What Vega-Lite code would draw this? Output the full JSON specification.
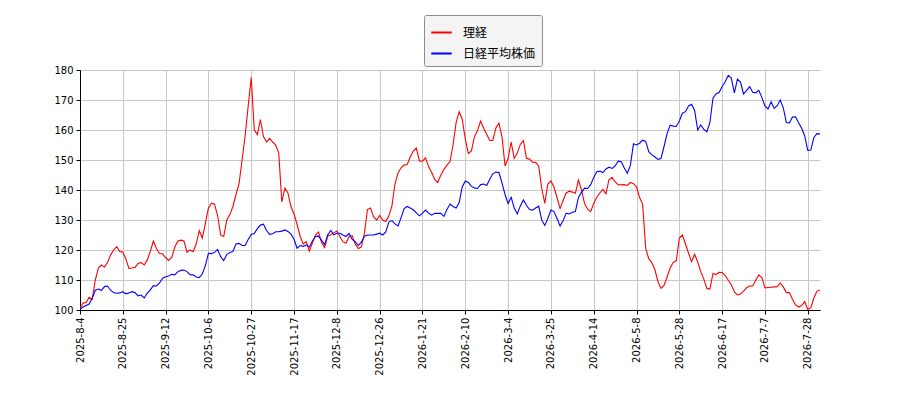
{
  "$schema": "https://vega.github.io/schema/vega-lite/v6.json",
  "width": 740,
  "height": 240,
  "autosize": "none",
  "padding": {"left": 80, "top": 70, "right": 80, "bottom": 90},
  "background": "white",
  "config": {
    "view": {"stroke": null},
    "font": "DejaVu Sans",
    "axis": {
      "labelFont": "DejaVu Sans", "labelFontSize": 10, "labelColor": "black",
      "domainColor": "black", "tickColor": "black", "tickSize": 4,
      "gridColor": "#c8c8c8", "gridWidth": 1, "title": null
    }
  },
  "data": {"values": [
    {"i":0,"理経":100.5,"日経平均株価":100.2},{"i":1,"理経":102.3,"日経平均株価":101},{"i":2,"理経":102.5,"日経平均株価":101.5},{"i":3,"理経":104.2,"日経平均株価":102},{"i":4,"理経":103.5,"日経平均株価":104},
    {"i":5,"理経":110,"日経平均株価":106.6},{"i":6,"理経":114,"日経平均株価":107},{"i":7,"理経":115,"日経平均株価":106.5},{"i":8,"理経":114.3,"日経平均株価":107.8},{"i":9,"理経":115.8,"日経平均株価":108},
    {"i":10,"理経":118.3,"日経平均株価":106.6},{"i":11,"理経":120,"日経平均株価":105.8},{"i":12,"理経":121.1,"日経平均株価":105.6},{"i":13,"理経":119.5,"日経平均株価":105.7},{"i":14,"理経":119.3,"日経平均株価":106.1},
    {"i":15,"理経":117,"日経平均株価":105.4},{"i":16,"理経":113.9,"日経平均株価":105.7},{"i":17,"理経":114,"日経平均株価":106.1},{"i":18,"理経":114.2,"日経平均株価":105.8},{"i":19,"理経":115.5,"日経平均株価":104.7},
    {"i":20,"理経":115.8,"日経平均株価":105},{"i":21,"理経":115,"日経平均株価":104},{"i":22,"理経":116.7,"日経平均株価":105.6},{"i":23,"理経":119.5,"日経平均株価":106.7},{"i":24,"理経":123,"日経平均株価":108.1},
    {"i":25,"理経":120.5,"日経平均株価":108},{"i":26,"理経":118.8,"日経平均株価":109},{"i":27,"理経":118.7,"日経平均株価":110.6},{"i":28,"理経":117.5,"日経平均株価":111.1},{"i":29,"理経":116.5,"日経平均株価":111.3},
    {"i":30,"理経":117.5,"日経平均株価":111.9},{"i":31,"理経":121,"日経平均株価":111.7},{"i":32,"理経":123,"日経平均株価":112.8},{"i":33,"理経":123.3,"日経平均株価":113.2},{"i":34,"理経":123,"日経平均株価":113.3},
    {"i":35,"理経":119.2,"日経平均株価":112.8},{"i":36,"理経":120,"日経平均株価":111.8},{"i":37,"理経":119.4,"日経平均株価":111.7},{"i":38,"理経":122,"日経平均株価":111},{"i":39,"理経":126.5,"日経平均株価":110.8},
    {"i":40,"理経":124,"日経平均株価":112},{"i":41,"理経":128.9,"日経平均株価":114.8},{"i":42,"理経":134,"日経平均株価":118.9},{"i":43,"理経":135.6,"日経平均株価":118.8},{"i":44,"理経":135.3,"日経平均株価":119.2},
    {"i":45,"理経":131.5,"日経平均株価":120.2},{"i":46,"理経":125,"日経平均株価":117.8},{"i":47,"理経":124.5,"日経平均株価":116.5},{"i":48,"理経":130,"日経平均株価":118.5},{"i":49,"理経":131.8,"日経平均株価":119.2},
    {"i":50,"理経":134.5,"日経平均株価":119.5},{"i":51,"理経":138.5,"日経平均株価":122},{"i":52,"理経":142,"日経平均株価":122.2},{"i":53,"理経":150,"日経平均株価":121.5},{"i":54,"理経":158,"日経平均株価":121.5},
    {"i":55,"理経":168,"日経平均株価":123.5},{"i":56,"理経":177.5,"日経平均株価":125.2},{"i":57,"理経":160,"日経平均株価":125.5},{"i":58,"理経":158.5,"日経平均株価":127.1},{"i":59,"理経":163.5,"日経平均株価":128.3},
    {"i":60,"理経":157.8,"日経平均株価":128.6},{"i":61,"理経":156,"日経平均株価":126.5},{"i":62,"理経":157.2,"日経平均株価":125.2},{"i":63,"理経":156,"日経平均株価":125.4},{"i":64,"理経":155,"日経平均株価":126.1},
    {"i":65,"理経":152.3,"日経平均株価":126.1},{"i":66,"理経":136,"日経平均株価":126.3},{"i":67,"理経":140.6,"日経平均株価":126.7},{"i":68,"理経":139,"日経平均株価":126.2},{"i":69,"理経":134.4,"日経平均株価":125.3},
    {"i":70,"理経":132,"日経平均株価":123.6},{"i":71,"理経":128.5,"日経平均株価":120.6},{"i":72,"理経":124.5,"日経平均株価":121.5},{"i":73,"理経":122,"日経平均株価":121.2},{"i":74,"理経":122.8,"日経平均株価":121.7},
    {"i":75,"理経":119.6,"日経平均株価":121},{"i":76,"理経":122.3,"日経平均株価":123},{"i":77,"理経":125,"日経平均株価":124.5},{"i":78,"理経":126,"日経平均株価":124.6},{"i":79,"理経":122.5,"日経平均株価":123.2},
    {"i":80,"理経":120.8,"日経平均株価":121.8},{"i":81,"理経":124.6,"日経平均株価":125},{"i":82,"理経":125.1,"日経平均株価":126.5},{"i":83,"理経":125.7,"日経平均株価":125.1},{"i":84,"理経":126.3,"日経平均株価":125.6},
    {"i":85,"理経":124.5,"日経平均株価":125.6},{"i":86,"理経":122.7,"日経平均株価":125},{"i":87,"理経":122.3,"日経平均株価":124.5},{"i":88,"理経":124.4,"日経平均株価":125.5},{"i":89,"理経":124.8,"日経平均株価":123.5},
    {"i":90,"理経":122,"日経平均株価":122.8},{"i":91,"理経":120.5,"日経平均株価":121.5},{"i":92,"理経":121,"日経平均株価":122.6},{"i":93,"理経":125.5,"日経平均株価":124.6},{"i":94,"理経":133.5,"日経平均株価":125},
    {"i":95,"理経":134,"日経平均株価":125},{"i":96,"理経":131.1,"日経平均株価":125},{"i":97,"理経":130,"日経平均株価":125.3},{"i":98,"理経":131.5,"日経平均株価":125.6},{"i":99,"理経":130,"日経平均株価":125},
    {"i":100,"理経":129.5,"日経平均株価":126},{"i":101,"理経":131.4,"日経平均株価":129.3},{"i":102,"理経":134.6,"日経平均株価":129.8},{"i":103,"理経":142,"日経平均株価":128.7},{"i":104,"理経":145.7,"日経平均株価":128},
    {"i":105,"理経":147.4,"日経平均株価":130.8},{"i":106,"理経":148.3,"日経平均株価":133.8},{"i":107,"理経":148.5,"日経平均株価":134.5},{"i":108,"理経":151,"日経平均株価":134},{"i":109,"理経":153,"日経平均株価":133.4},
    {"i":110,"理経":154,"日経平均株価":132.4},{"i":111,"理経":149.7,"日経平均株価":131.4},{"i":112,"理経":149.6,"日経平均株価":132.3},{"i":113,"理経":150.7,"日経平均株価":133.3},{"i":114,"理経":147.8,"日経平均株価":132.3},
    {"i":115,"理経":145.8,"日経平均株価":131.6},{"i":116,"理経":143.5,"日経平均株価":132.2},{"i":117,"理経":142.5,"日経平均株価":132.2},{"i":118,"理経":145,"日経平均株価":132.2},{"i":119,"理経":146.8,"日経平均株価":131.2},
    {"i":120,"理経":148.3,"日経平均株価":133.5},{"i":121,"理経":149.5,"日経平均株価":135.3},{"i":122,"理経":155,"日経平均株価":134.5},{"i":123,"理経":162.5,"日経平均株価":134},{"i":124,"理経":166.1,"日経平均株価":135.8},
    {"i":125,"理経":163.5,"日経平均株価":141},{"i":126,"理経":157,"日経平均株価":143},{"i":127,"理経":152.2,"日経平均株価":142.5},{"i":128,"理経":153,"日経平均株価":141.2},{"i":129,"理経":157.8,"日経平均株価":140.7},
    {"i":130,"理経":159.8,"日経平均株価":140.5},{"i":131,"理経":163,"日経平均株価":141.8},{"i":132,"理経":160.6,"日経平均株価":142},{"i":133,"理経":158.6,"日経平均株価":141.5},{"i":134,"理経":156.5,"日経平均株価":143.6},
    {"i":135,"理経":156.5,"日経平均株価":145.4},{"i":136,"理経":160.7,"日経平均株価":146},{"i":137,"理経":162.3,"日経平均株価":145.8},{"i":138,"理経":157.8,"日経平均株価":142.4},{"i":139,"理経":148,"日経平均株価":138.5},
    {"i":140,"理経":150.5,"日経平均株価":135.5},{"i":141,"理経":156,"日経平均株価":137.6},{"i":142,"理経":150.5,"日経平均株価":134},{"i":143,"理経":152.3,"日経平均株価":132},{"i":144,"理経":155.2,"日経平均株価":134.7},
    {"i":145,"理経":156.5,"日経平均株価":136.7},{"i":146,"理経":150.6,"日経平均株価":134.9},{"i":147,"理経":150.3,"日経平均株価":133.5},{"i":148,"理経":149.3,"日経平均株価":133.3},{"i":149,"理経":149.2,"日経平均株価":134},
    {"i":150,"理経":148,"日経平均株価":134.6},{"i":151,"理経":140.5,"日経平均株価":130},{"i":152,"理経":135.5,"日経平均株価":128.2},{"i":153,"理経":142,"日経平均株価":130.5},{"i":154,"理経":143,"日経平均株価":133.3},
    {"i":155,"理経":141,"日経平均株価":132.8},{"i":156,"理経":137.5,"日経平均株価":130.5},{"i":157,"理経":133.8,"日経平均株価":128},{"i":158,"理経":136.5,"日経平均株価":129.8},{"i":159,"理経":139,"日経平均株価":132.3},
    {"i":160,"理経":139.6,"日経平均株価":132},{"i":161,"理経":139.3,"日経平均株価":132.6},{"i":162,"理経":138.9,"日経平均株価":132.8},{"i":163,"理経":143.3,"日経平均株価":137.5},{"i":164,"理経":140,"日経平均株価":139.2},
    {"i":165,"理経":135.5,"日経平均株価":140.6},{"i":166,"理経":133.6,"日経平均株価":140.5},{"i":167,"理経":132.8,"日経平均株価":141.8},{"i":168,"理経":135.5,"日経平均株価":144.2},{"i":169,"理経":137.6,"日経平均株価":146.1},
    {"i":170,"理経":139,"日経平均株価":146.3},{"i":171,"理経":140.2,"日経平均株価":145.8},{"i":172,"理経":138.7,"日経平均株価":147},{"i":173,"理経":143.5,"日経平均株価":147.6},{"i":174,"理経":144.2,"日経平均株価":147.2},
    {"i":175,"理経":142.7,"日経平均株価":148},{"i":176,"理経":141.8,"日経平均株価":149.6},{"i":177,"理経":141.7,"日経平均株価":149.4},{"i":178,"理経":141.8,"日経平均株価":147.3},{"i":179,"理経":141.5,"日経平均株価":145.6},
    {"i":180,"理経":142.5,"日経平均株価":148.3},{"i":181,"理経":142.1,"日経平均株価":155.4},{"i":182,"理経":141,"日経平均株価":155},{"i":183,"理経":137.5,"日経平均株価":155.6},{"i":184,"理経":135.2,"日経平均株価":156.6},
    {"i":185,"理経":120.5,"日経平均株価":156.2},{"i":186,"理経":117.1,"日経平均株価":152.8},{"i":187,"理経":115.8,"日経平均株価":151.8},{"i":188,"理経":113.5,"日経平均株価":151},{"i":189,"理経":109.5,"日経平均株価":150.2},
    {"i":190,"理経":107.2,"日経平均株価":150.5},{"i":191,"理経":108.2,"日経平均株価":154.5},{"i":192,"理経":111,"日経平均株価":158.8},{"i":193,"理経":114,"日経平均株価":161.6},{"i":194,"理経":115.9,"日経平均株価":161.3},
    {"i":195,"理経":116.4,"日経平均株価":161.2},{"i":196,"理経":124,"日経平均株価":163},{"i":197,"理経":125,"日経平均株価":165.6},{"i":198,"理経":122,"日経平均株価":166.1},{"i":199,"理経":119,"日経平均株価":168},
    {"i":200,"理経":116.1,"日経平均株価":168.6},{"i":201,"理経":118.6,"日経平均株価":166.5},{"i":202,"理経":116,"日経平均株価":160},{"i":203,"理経":112.8,"日経平均株価":161.7},{"i":204,"理経":110.3,"日経平均株価":160.2},
    {"i":205,"理経":107.2,"日経平均株価":159.4},{"i":206,"理経":107,"日経平均株価":162.5},{"i":207,"理経":112.2,"日経平均株価":170.6},{"i":208,"理経":111.8,"日経平均株価":172},{"i":209,"理経":112.6,"日経平均株価":172.5},
    {"i":210,"理経":112.5,"日経平均株価":174.5},{"i":211,"理経":111.5,"日経平均株価":176.1},{"i":212,"理経":109.9,"日経平均株価":178.2},{"i":213,"理経":108.4,"日経平均株価":177.3},{"i":214,"理経":106,"日経平均株価":172.4},
    {"i":215,"理経":105,"日経平均株価":177},{"i":216,"理経":105.3,"日経平均株価":176},{"i":217,"理経":106.3,"日経平均株価":172},{"i":218,"理経":107.4,"日経平均株価":173.2},{"i":219,"理経":108,"日経平均株価":174.4},
    {"i":220,"理経":108,"日経平均株価":172.6},{"i":221,"理経":110,"日経平均株価":172.4},{"i":222,"理経":111.7,"日経平均株価":173.2},{"i":223,"理経":110.7,"日経平均株価":170.8},{"i":224,"理経":107.4,"日経平均株価":168},
    {"i":225,"理経":107.5,"日経平均株価":167},{"i":226,"理経":107.6,"日経平均株価":169.4},{"i":227,"理経":107.7,"日経平均株価":167.2},{"i":228,"理経":107.8,"日経平均株価":168.1},{"i":229,"理経":109,"日経平均株価":170},
    {"i":230,"理経":107.7,"日経平均株価":167.4},{"i":231,"理経":105.8,"日経平均株価":162.5},{"i":232,"理経":105.8,"日経平均株価":162.4},{"i":233,"理経":103.6,"日経平均株価":164.3},{"i":234,"理経":101.7,"日経平均株価":164.4},
    {"i":235,"理経":101,"日経平均株価":162.4},{"i":236,"理経":101.5,"日経平均株価":160.6},{"i":237,"理経":102.8,"日経平均株価":158},{"i":238,"理経":100.2,"日経平均株価":153.2},{"i":239,"理経":100.8,"日経平均株価":153.3},
    {"i":240,"理経":104,"日経平均株価":157.5},{"i":241,"理経":106.3,"日経平均株価":158.8},{"i":242,"理経":106.7,"日経平均株価":158.7}
  ]},
  "transform": [
    {"fold": ["理経", "日経平均株価"], "as": ["series", "value"]}
  ],
  "mark": {"type": "line", "strokeWidth": 1.1, "clip": true},
  "encoding": {
    "x": {
      "field": "i",
      "type": "quantitative",
      "scale": {"domain": [0, 242], "nice": false, "zero": false},
      "axis": {
        "values": [0, 14, 28, 42, 56, 70, 84, 98, 112, 126, 140, 154, 168, 182, 196, 210, 224, 238],
        "labelExpr": "['2025-8-4','2025-8-25','2025-9-12','2025-10-6','2025-10-27','2025-11-17','2025-12-8','2025-12-26','2026-1-21','2026-2-10','2026-3-4','2026-3-25','2026-4-14','2026-5-8','2026-5-28','2026-6-17','2026-7-7','2026-7-28'][round(datum.value / 14)]",
        "labelAngle": 270,
        "labelAlign": "right",
        "labelBaseline": "middle",
        "labelPadding": 3
      }
    },
    "y": {
      "field": "value",
      "type": "quantitative",
      "scale": {"domain": [100, 180], "nice": false, "zero": false},
      "axis": {"values": [100, 110, 120, 130, 140, 150, 160, 170, 180], "labelPadding": 3}
    },
    "color": {
      "field": "series",
      "type": "nominal",
      "scale": {"domain": ["理経", "日経平均株価"], "range": ["#ff0000", "#0000ff"]},
      "legend": {
        "title": null,
        "orient": "none",
        "legendX": 344,
        "legendY": -55,
        "symbolType": "stroke",
        "symbolStrokeWidth": 2,
        "symbolSize": 420,
        "labelOffset": 10,
        "labelFont": "Noto Sans CJK JP",
        "labelFontSize": 12,
        "labelColor": "black",
        "rowPadding": 3,
        "padding": 6,
        "fillColor": "#f4f4f4",
        "strokeColor": "#8c8c8c",
        "cornerRadius": 2
      }
    }
  }
}
